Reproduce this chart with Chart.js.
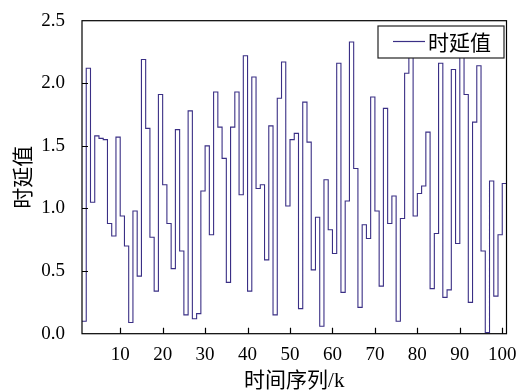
<!DOCTYPE html>
<html>
<head>
<meta charset="utf-8">
<script src="https://cdn.jsdelivr.net/npm/chart.js@4.4.0/dist/chart.umd.min.js"></script>
<style>
  html, body { margin: 0; padding: 0; background: #fff; }
  #wrap { width: 524px; height: 392px; }
</style>
</head>
<body>
<div id="wrap"><canvas id="delayChart" width="524" height="392"></canvas></div>
<script>
// time index k and the delay value held from k to k+1
const timeK = [
  1, 2, 3, 4, 5, 6, 7, 8, 9, 10,
  11, 12, 13, 14, 15, 16, 17, 18, 19, 20,
  21, 22, 23, 24, 25, 26, 27, 28, 29, 30,
  31, 32, 33, 34, 35, 36, 37, 38, 39, 40,
  41, 42, 43, 44, 45, 46, 47, 48, 49, 50,
  51, 52, 53, 54, 55, 56, 57, 58, 59, 60,
  61, 62, 63, 64, 65, 66, 67, 68, 69, 70,
  71, 72, 73, 74, 75, 76, 77, 78, 79, 80,
  81, 82, 83, 84, 85, 86, 87, 88, 89, 90,
  91, 92, 93, 94, 95, 96, 97, 98, 99, 100
];
const delays = [
  0.10, 2.12, 1.05, 1.58, 1.56, 1.55, 0.88, 0.78, 1.57, 0.94,
  0.70, 0.09, 0.98, 0.46, 2.19, 1.64, 0.77, 0.34, 1.91, 1.19,
  0.88, 0.52, 1.63, 0.66, 0.15, 1.78, 0.12, 0.16, 1.14, 1.50,
  0.79, 1.93, 1.65, 1.40, 0.41, 1.65, 1.93, 1.11, 2.22, 0.34,
  2.05, 1.16, 1.19, 0.59, 1.66, 0.15, 1.88, 2.17, 1.02, 1.55,
  1.60, 0.20, 1.85, 1.53, 0.51, 0.93, 0.06, 1.23, 0.83, 0.64,
  2.16, 0.33, 1.06, 2.33, 1.32, 0.21, 0.87, 0.76, 1.89, 0.98,
  0.38, 1.80, 0.88, 1.10, 0.10, 0.92, 2.08, 2.30, 0.94, 1.12,
  1.18, 1.61, 0.36, 0.80, 2.16, 0.29, 0.35, 2.11, 0.72, 2.30,
  1.91, 0.25, 1.69, 2.14, 0.66, 0.01, 1.22, 0.30, 0.79, 1.20
];
const kEnd = 101; // right edge of the last step
const xTicks = [10, 20, 30, 40, 50, 60, 70, 80, 90, 100];
const yTicks = [0, 0.5, 1.0, 1.5, 2.0, 2.5];

const lineColor = '#3a2f85';
const serif = '"Liberation Serif", "Noto Sans CJK SC", serif';

const points = timeK.map((k, i) => ({ x: k, y: delays[i] }));
points.push({ x: kEnd, y: delays[delays.length - 1] });

// box round the plot, inward tick marks and the legend inside the plot
const frameAndLegend = {
  id: 'frameAndLegend',
  afterDraw(chart) {
    const { ctx, chartArea: a, scales: { x, y } } = chart;
    ctx.save();
    ctx.strokeStyle = '#000';
    ctx.lineWidth = 1.2;
    ctx.strokeRect(a.left, a.top, a.right - a.left, a.bottom - a.top);

    ctx.beginPath();
    xTicks.forEach(v => {
      const px = Math.round(x.getPixelForValue(v)) + 0.5;
      ctx.moveTo(px, a.bottom);
      ctx.lineTo(px, a.bottom - 6);
    });
    yTicks.slice(1, -1).forEach(v => {
      const py = Math.round(y.getPixelForValue(v)) + 0.5;
      ctx.moveTo(a.left, py);
      ctx.lineTo(a.left + 6, py);
    });
    ctx.stroke();

    // legend
    const bx = 378, by = 26, bw = 126, bh = 32;
    ctx.fillStyle = '#fff';
    ctx.fillRect(bx, by, bw, bh);
    ctx.lineWidth = 1.2;
    ctx.strokeStyle = '#222';
    ctx.strokeRect(bx, by, bw, bh);
    ctx.beginPath();
    ctx.strokeStyle = lineColor;
    ctx.lineWidth = 1.2;
    ctx.moveTo(393, 41.5);
    ctx.lineTo(425, 41.5);
    ctx.stroke();
    ctx.fillStyle = '#000';
    ctx.font = '21px "Noto Sans CJK SC"';
    ctx.textBaseline = 'middle';
    ctx.textAlign = 'left';
    ctx.fillText('时延值', 428, 42);
    ctx.restore();
  }
};

new Chart(document.getElementById('delayChart'), {
  type: 'line',
  data: {
    datasets: [{
      label: '时延值',
      data: points,
      stepped: true,
      borderColor: lineColor,
      borderWidth: 1.1,
      pointRadius: 0,
      fill: false
    }]
  },
  options: {
    responsive: false,
    animation: false,
    layout: { padding: { left: 0, right: 17.5, top: 20.7, bottom: 0 } },
    plugins: {
      legend: { display: false },
      tooltip: { enabled: false }
    },
    scales: {
      x: {
        type: 'linear',
        min: 1,
        max: kEnd,
        afterFit: s => { s.height = 58.3; },
        afterBuildTicks: s => { s.ticks = xTicks.map(v => ({ value: v })); },
        grid: { display: false },
        border: { display: false },
        ticks: {
          color: '#000',
          font: { family: serif, size: 19 },
          padding: 2,
          maxRotation: 0,
          autoSkip: false
        },
        title: {
          display: true,
          text: '时间序列/k',
          color: '#000',
          font: { family: serif, size: 21, lineHeight: 1 },
          padding: { top: 0, bottom: 0 }
        }
      },
      y: {
        min: 0,
        max: 2.5,
        afterFit: s => { s.width = 82; },
        afterBuildTicks: s => { s.ticks = yTicks.map(v => ({ value: v })); },
        grid: { display: false },
        border: { display: false },
        ticks: {
          color: '#000',
          font: { family: serif, size: 19 },
          padding: 9,
          callback: v => v.toFixed(1)
        },
        title: {
          display: true,
          text: '时延值',
          color: '#000',
          font: { family: serif, size: 21, lineHeight: 1 },
          padding: { top: 13.5, bottom: 0 }
        }
      }
    }
  },
  plugins: [frameAndLegend]
});
</script>
</body>
</html>
